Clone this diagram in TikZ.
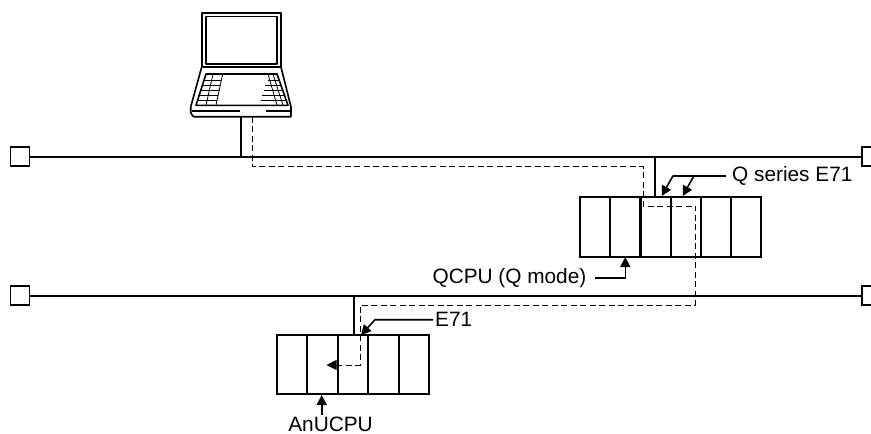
\documentclass[tikz,border=0pt]{standalone}
\usepackage{fontspec}
\setmainfont{Liberation Sans}
\usetikzlibrary{arrows, arrows.meta}
\tikzset{bay/.style = {shape = rectangle, draw, line width = 1.8pt, minimum width = 30.6pt, minimum height = 60pt, inner sep = 0pt}}
\tikzset{terminal/.style = {shape = rectangle, draw, line width = 1.5pt, minimum size = 19pt, inner sep = 0pt}}
\tikzset{bus/.style = {-, line width = 1.8pt}}
\tikzset{edge/.style = {-{Triangle[length = 10pt, width = 10pt]}, line width = 1.6pt}}
\tikzset{route/.style = {dash pattern = on 6pt off 3.5pt, line width = 0.9pt}}
\tikzset{label/.style = {font = \fontsize{20.8pt}{24pt}\selectfont, inner sep = 0pt}}
\tikzset{pc/.style = {line width = 1.6pt, line join = round}}
\tikzset{key/.style = {line width = 0.8pt}}

\begin{document}
\begin{tikzpicture}[x = 1pt, y = -1pt]
	\useasboundingbox (0, 0) rectangle (871, 434);

	% laptop
	\draw[pc] (201.7, 12.7) rectangle (281, 67);
	\draw[pc] (205.7, 16.3) rectangle (276.7, 64);
	\draw[pc] (201.7, 67) -- (190.7, 107) -- (190.7, 113) to[out = 90, in = 180] (194, 116.7) -- (291, 116.7);
	\draw[pc] (281, 67) -- (291, 107) -- (291, 116.7);
	\draw[pc] (206, 74) -- (277, 74) -- (288, 105.3) -- (196, 105.3) -- cycle;
	\draw[pc] (192, 110.7) -- (240, 110.7);
	\draw[pc] (266, 110.7) -- (291, 110.7);
	\foreach \xa/\xb in {213/206, 222.7/216} \draw[key] (\xa, 74) -- (\xb, 105.3);
	\foreach \xa/\xb in {268/277, 273/283} \draw[key] (\xa, 74) -- (\xb, 105.3);
	\foreach \y/\xa/\xb in {80/204/221, 85/202/220, 90/200/219, 95.7/198/218, 100.7/197/217} \draw[key] (\xa, \y) -- (\xb, \y);
	\foreach \y/\xa/\xb in {80/268/279, 85/265/281, 90/264/283, 95.7/262/285, 100.7/261/287} \draw[key] (\xa, \y) -- (\xb, \y);

	% networks
	\node[terminal] (lefta) at (20, 156.7) {};
	\node[terminal] (righta) at (871.5, 156.7) {};
	\node[terminal] (leftb) at (20, 295.7) {};
	\node[terminal] (rightb) at (871.5, 295.7) {};
	\draw[bus] (lefta) -- (righta);
	\draw[bus] (leftb) -- (rightb);

	% Q series station
	\foreach \n/\x in {1/595, 2/625.3, 3/655.6, 4/685.9, 5/716.2, 6/746} \node[bay] (q\n) at (\x, 226.7) {};
	% A series station
	\foreach \n/\x in {1/292.2, 2/322.6, 3/353, 4/383.4, 5/413.8} \node[bay, minimum height = 59.3pt] (a\n) at (\x, 364.7) {};

	% stems
	\coordinate (pcfoot) at (241, 116.7);
	\coordinate (pctap) at (241, 156.7);
	\coordinate (qtap) at (655, 156.7);
	\coordinate (qtop) at (655, 196.7);
	\coordinate (atap) at (354, 295.7);
	\coordinate (atop) at (354, 335);
	\draw[bus] (pcfoot) -- (pctap);
	\draw[bus] (qtap) -- (qtop);
	\draw[bus] (atap) -- (atop);

	% data route
	\coordinate (ra) at (252.3, 116.7);
	\coordinate (rb) at (252.3, 166.7);
	\coordinate (rc) at (643.3, 166.7);
	\coordinate (rd) at (643.3, 206);
	\coordinate (re) at (695.7, 206);
	\coordinate (rf) at (695.7, 305);
	\coordinate (rg) at (360.3, 305);
	\coordinate (rh) at (360.3, 365);
	\coordinate (ri) at (336, 365);
	\coordinate (rj) at (326.5, 365);
	\draw[route] (ra) -- (rb) -- (rc) -- (rd) -- (re) -- (rf) -- (rg) -- (rh) -- (ri);
	\draw[-{Triangle[length = 10pt, width = 10pt]}, line width = 0.9pt] (ri) -- (rj);

	% labels
	\node[label, anchor = west] (qe) at (732, 175.7) {Q series E71};
	\node[label, anchor = east] (qcpu) at (586.5, 278) {QCPU (Q mode)};
	\node[label, anchor = west] (ae) at (435, 319.7) {E71};
	\node[label] (acpu) at (330.5, 424) {AnUCPU};

	\coordinate (qea) at (726, 175.7);
	\coordinate (qeb) at (694, 175.7);
	\coordinate (qec) at (673, 175.7);
	\coordinate (qta) at (682.7, 196);
	\coordinate (qtb) at (661.7, 196);
	\coordinate (qca) at (595, 278);
	\coordinate (qcb) at (625.3, 278);
	\coordinate (qcc) at (625.3, 257);
	\coordinate (aea) at (433, 319.7);
	\coordinate (aeb) at (375, 319.7);
	\coordinate (aec) at (361, 335);
	\coordinate (aca) at (321.7, 415);
	\coordinate (acb) at (321.7, 395);

	\draw[line width = 1.6pt] (qea) -- (qec);
	\draw[edge] (qeb) -- (qta);
	\draw[edge] (qec) -- (qtb);
	\draw[edge] (qca) -- (qcb) -- (qcc);
	\draw[edge] (aea) -- (aeb) -- (aec);
	\draw[edge] (aca) -- (acb);
\end{tikzpicture}
\end{document}
